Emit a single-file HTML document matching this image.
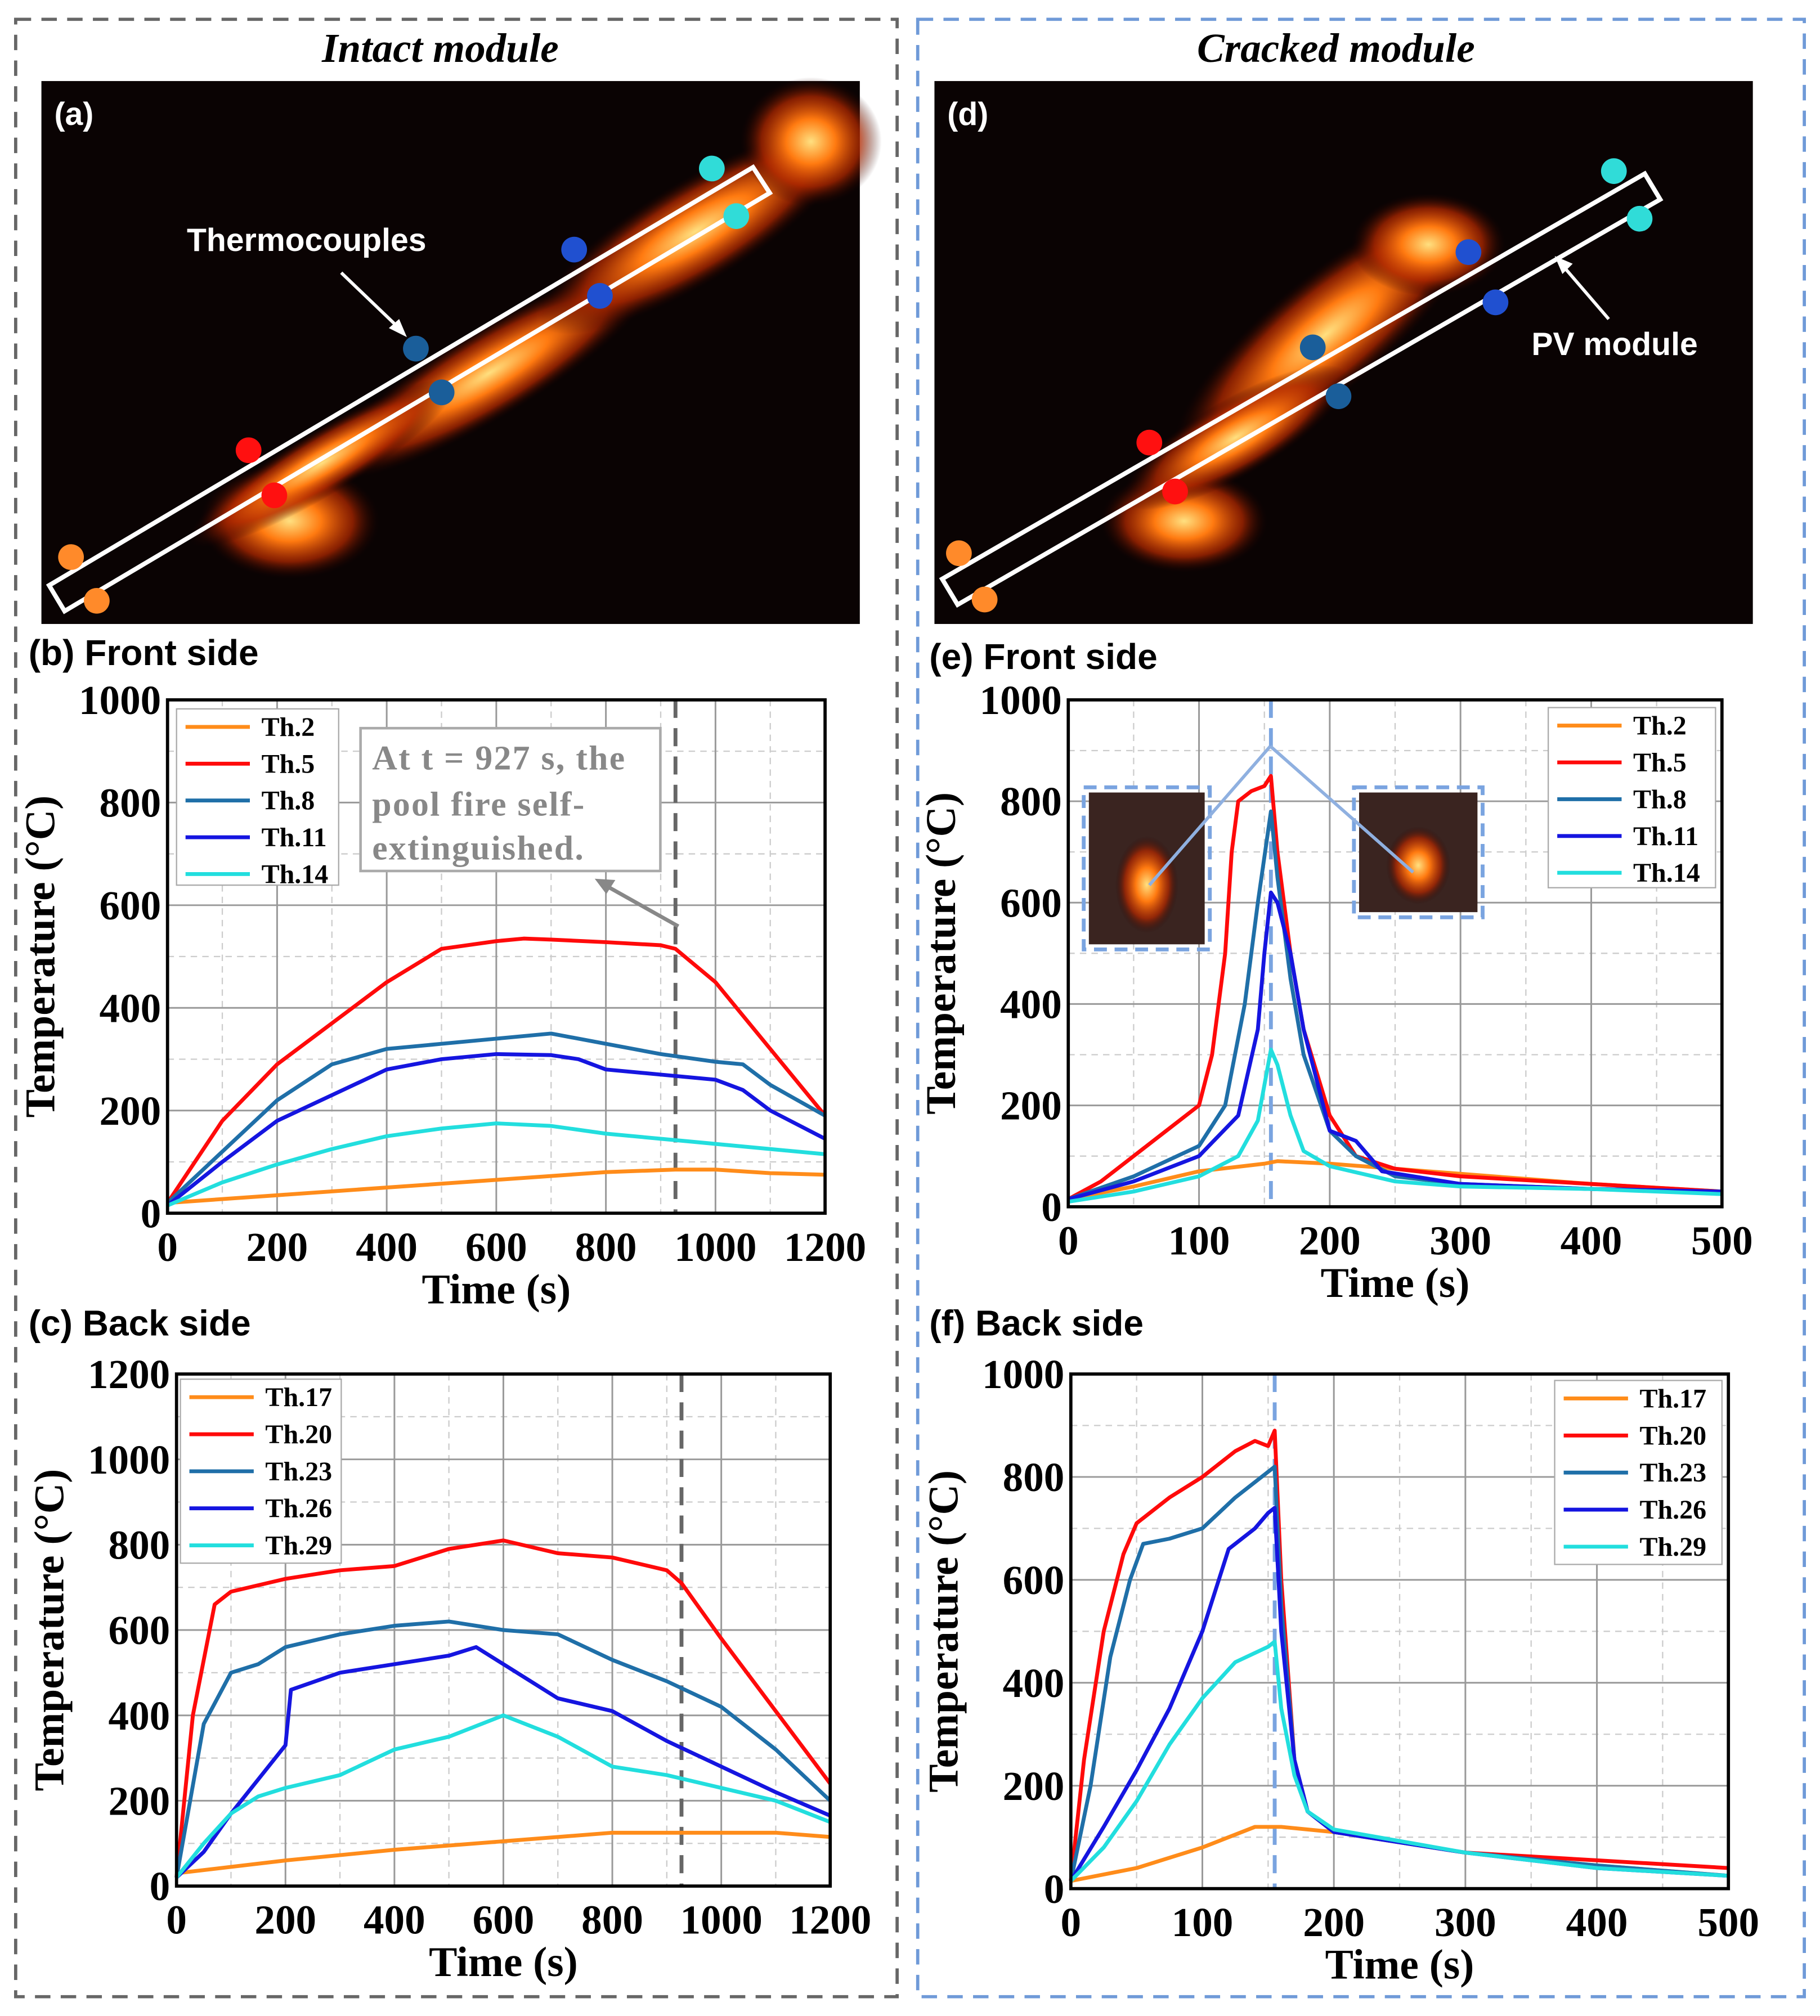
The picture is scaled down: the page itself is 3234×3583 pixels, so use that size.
<!DOCTYPE html>
<html><head><meta charset="utf-8"><style>
html,body{margin:0;padding:0;background:#fff;}
svg{display:block;}
.tick{font-family:"Liberation Serif",serif;font-weight:bold;font-size:32px;fill:#000;}
.ttl{font-family:"Liberation Serif",serif;font-weight:bold;font-size:33px;fill:#000;}
.leg{font-family:"Liberation Serif",serif;font-weight:bold;font-size:21px;fill:#000;}
.pl{font-family:"Liberation Sans",sans-serif;font-weight:bold;font-size:28px;fill:#000;}
.ph{font-family:"Liberation Sans",sans-serif;font-weight:bold;font-size:25px;fill:#fff;}
.hd{font-family:"Liberation Serif",serif;font-weight:bold;font-style:italic;font-size:32px;fill:#000;}
</style></head><body>
<svg id="fig" xmlns="http://www.w3.org/2000/svg" width="3234" height="3583" viewBox="0 0 1414 1567">
<defs>
<radialGradient id="fl" cx="50%" cy="50%" r="50%"><stop offset="0" stop-color="#ffe080"/><stop offset="0.35" stop-color="#ff7a10"/><stop offset="0.7" stop-color="#b02800" stop-opacity="0.75"/><stop offset="1" stop-color="#200000" stop-opacity="0"/></radialGradient>
</defs>
<rect x="12" y="15" width="685" height="1537" fill="none" stroke="#666" stroke-width="2.5" stroke-dasharray="12,8"/>
<rect x="713" y="15" width="689" height="1537" fill="none" stroke="#6f9ad8" stroke-width="2.5" stroke-dasharray="12,8"/>
<text x="342" y="48" text-anchor="middle" class="hd">Intact module</text>
<text x="1038" y="48" text-anchor="middle" class="hd">Cracked module</text>

<g>
<rect x="32" y="63" width="636" height="422" fill="#0a0303"/>
<ellipse cx="225" cy="405" rx="70" ry="45" fill="url(#fl)"/>
<ellipse cx="380" cy="290" rx="150" ry="35" transform="rotate(-31 380 290)" fill="url(#fl)"/>
<ellipse cx="540" cy="180" rx="140" ry="40" transform="rotate(-31 540 180)" fill="url(#fl)"/>
<ellipse cx="630" cy="110" rx="55" ry="50" fill="url(#fl)"/>
<ellipse cx="250" cy="360" rx="120" ry="25" transform="rotate(-31 250 360)" fill="url(#fl)"/>
<polygon points="38,455 585,130 598,150 50,475" fill="none" stroke="#fff" stroke-width="3.5"/>
<text x="42" y="97" class="ph">(a)</text>
<text x="145" y="195" class="ph">Thermocouples</text>
<line x1="265" y1="212" x2="313" y2="258" stroke="#fff" stroke-width="2.5"/>
<polygon points="316,262 302,255 310,248" fill="#fff"/>
<circle cx="55" cy="433" r="10" fill="#ff8a2a"/><circle cx="75" cy="467" r="10" fill="#ff8a2a"/>
<circle cx="193" cy="350" r="10" fill="#ff1010"/><circle cx="213" cy="385" r="10" fill="#ff1010"/>
<circle cx="323" cy="271" r="10" fill="#1a5e9a"/><circle cx="343" cy="305" r="10" fill="#1a5e9a"/>
<circle cx="446" cy="194" r="10" fill="#2050d0"/><circle cx="466" cy="230" r="10" fill="#2050d0"/>
<circle cx="553" cy="131" r="10" fill="#30dcd8"/><circle cx="572" cy="168" r="10" fill="#30dcd8"/>
</g>
<g>
<rect x="726" y="63" width="636" height="422" fill="#0a0303"/>
<ellipse cx="920" cy="405" rx="65" ry="40" fill="url(#fl)"/>
<ellipse cx="1030" cy="260" rx="150" ry="45" transform="rotate(-40 1030 260)" fill="url(#fl)"/>
<ellipse cx="1110" cy="190" rx="60" ry="40" fill="url(#fl)"/>
<ellipse cx="960" cy="340" rx="100" ry="30" transform="rotate(-30 960 340)" fill="url(#fl)"/>
<polygon points="732,450 1278,135 1290,155 744,470" fill="none" stroke="#fff" stroke-width="3.5"/>
<text x="736" y="97" class="ph">(d)</text>
<text x="1190" y="276" class="ph">PV module</text>
<line x1="1250" y1="248" x2="1213" y2="205" stroke="#fff" stroke-width="2.5"/>
<polygon points="1208,199 1222,205 1214,213" fill="#fff"/>
<circle cx="745" cy="430" r="10" fill="#ff8a2a"/><circle cx="765" cy="466" r="10" fill="#ff8a2a"/>
<circle cx="893" cy="344" r="10" fill="#ff1010"/><circle cx="913" cy="382" r="10" fill="#ff1010"/>
<circle cx="1020" cy="270" r="10" fill="#1a5e9a"/><circle cx="1040" cy="308" r="10" fill="#1a5e9a"/>
<circle cx="1141" cy="196" r="10" fill="#2050d0"/><circle cx="1162" cy="235" r="10" fill="#2050d0"/>
<circle cx="1254" cy="133" r="10" fill="#30dcd8"/><circle cx="1274" cy="170" r="10" fill="#30dcd8"/>
</g>
<text x="22" y="517" class="pl">(b)  Front side</text>
<text x="22" y="1038" class="pl">(c)  Back side</text>
<text x="722" y="520" class="pl">(e)  Front side</text>
<text x="722" y="1038" class="pl">(f)  Back side</text>
</svg>
<script>
// ---- chart data ----
const bX2=[0,200,400,600,800,927,1000,1100,1200], bY2=[20,35,50,65,80,85,85,78,75];
const bX5=[0,100,200,300,400,500,600,650,700,800,900,927,1000,1100,1200], bY5=[20,180,290,370,450,515,530,535,533,528,522,515,450,320,190];
const bX8=[0,100,200,300,400,500,600,700,800,900,1000,1050,1100,1200], bY8=[20,120,220,290,320,330,340,350,330,310,295,290,250,190];
const bX11=[0,100,200,300,400,500,600,700,750,800,900,1000,1050,1100,1200], bY11=[15,100,180,230,280,300,310,308,300,280,270,260,240,200,145];
const bX14=[0,100,200,300,400,500,600,700,800,900,1000,1100,1200], bY14=[15,60,95,125,150,165,175,170,155,145,135,125,115];

const cX17=[0,200,400,600,800,1000,1100,1200], cY17=[30,60,85,105,125,125,125,115];
const cX20=[0,30,70,100,200,300,400,500,600,700,800,900,927,1000,1100,1200], cY20=[20,400,660,690,720,740,750,790,810,780,770,740,710,580,410,240];
const cX23=[0,50,100,150,200,300,400,500,600,700,800,900,1000,1100,1200], cY23=[20,380,500,520,560,590,610,620,600,590,530,480,420,320,200];
const cX26=[0,50,100,150,200,210,300,400,500,550,600,700,800,900,1000,1100,1200], cY26=[20,80,170,250,330,460,500,520,540,560,520,440,410,340,280,220,165];
const cX29=[0,50,100,150,200,300,400,500,600,700,800,900,1000,1100,1200], cY29=[20,100,170,210,230,260,320,350,400,350,280,260,230,200,150];

const eX2=[0,50,100,150,160,200,250,300,350,400,500], eY2=[15,40,70,85,90,85,75,65,55,45,30];
const eX5=[0,25,50,75,100,110,120,125,130,140,150,155,160,170,180,200,220,250,300,400,500], eY5=[15,50,100,150,200,300,500,700,800,820,830,850,700,500,350,180,100,75,60,45,30];
const eX8=[0,50,100,120,135,145,155,160,170,180,200,220,250,300,400,500], eY8=[15,60,120,200,400,600,780,650,450,300,150,100,60,45,35,30];
const eX11=[0,50,100,130,145,150,155,160,170,180,200,220,240,300,400,500], eY11=[15,50,100,180,350,500,620,600,500,350,150,130,70,45,35,30];
const eX14=[0,50,100,130,145,155,160,170,180,200,250,300,400,500], eY14=[10,30,60,100,170,310,280,180,110,80,50,40,35,25];

const fX17=[0,50,100,140,160,200,300,400,500], fY17=[15,40,80,120,120,110,70,45,25];
const fX20=[0,10,25,40,50,75,100,125,140,150,155,160,170,180,200,250,300,400,500], fY20=[15,250,500,650,710,760,800,850,870,860,890,600,250,150,110,90,70,55,40];
const fX23=[0,15,30,45,55,75,100,125,150,155,160,170,180,200,300,400,500], fY23=[15,200,450,600,670,680,700,760,810,820,550,250,150,110,70,45,25];
const fX26=[0,25,50,75,100,120,140,150,155,160,170,180,200,300,400,500], fY26=[15,120,230,350,500,660,700,730,740,500,250,150,110,70,40,25];
const fX29=[0,25,50,75,100,125,150,155,160,170,180,200,300,400,500], fY29=[15,80,170,280,370,440,470,480,350,220,150,115,70,40,25];

const ticks1200=[0,200,400,600,800,1000,1200], ticks500=[0,100,200,300,400,500];
const yT1000=[0,200,400,600,800,1000], yT1200=[0,200,400,600,800,1000,1200];
const C=['#ff8c1a','#ff0a0a','#1f6fa8','#1515e0','#22dede'];

const NS='http://www.w3.org/2000/svg';
const fig=document.getElementById('fig');
function mk(tag,at,parent){const e=document.createElementNS(NS,tag);for(const k in at)e.setAttribute(k,at[k]);(parent||fig).appendChild(e);return e;}

function chart(cfg){
  const g=mk('g',{});
  
  
  const sx=v=>cfg.x+v/cfg.xmax*cfg.w, sy=v=>cfg.y+cfg.h-v/cfg.ymax*cfg.h;
  const xs=cfg.xt[1]-cfg.xt[0], ys=cfg.yt[1]-cfg.yt[0];
  for(let v=xs/2;v<cfg.xmax;v+=xs){const l=mk('line',{x1:sx(v),x2:sx(v),y1:cfg.y,y2:cfg.y+cfg.h,stroke:'#ccc','stroke-width':1,'stroke-dasharray':'5,4'},g);}
  for(let v=ys/2;v<cfg.ymax;v+=ys){const l=mk('line',{x1:cfg.x,x2:cfg.x+cfg.w,y1:sy(v),y2:sy(v),stroke:'#ccc','stroke-width':1,'stroke-dasharray':'5,4'},g);}
  cfg.xt.forEach(v=>{
    const l=mk('line',{x1:sx(v),x2:sx(v),y1:cfg.y,y2:cfg.y+cfg.h,stroke:'#999','stroke-width':1.3},g);
    
    
    const t=mk('text',{x:sx(v),y:cfg.y+cfg.h+37,'text-anchor':'middle',class:'tick'},g);t.textContent=v;
    
    
  });
  cfg.yt.forEach(v=>{
    const l=mk('line',{x1:cfg.x,x2:cfg.x+cfg.w,y1:sy(v),y2:sy(v),stroke:'#999','stroke-width':1.3},g);
    
    
    const t=mk('text',{x:cfg.x-5,y:sy(v)+11,'text-anchor':'end',class:'tick'},g);t.textContent=v;
    
    
  });
  if(cfg.vline!==undefined){const l=mk('line',{x1:sx(cfg.vline),x2:sx(cfg.vline),y1:cfg.y,y2:cfg.y+cfg.h,stroke:cfg.vcol,'stroke-width':3,'stroke-dasharray':'14,8'},g);}
  cfg.series.forEach((s,i)=>{
    const p=mk('polyline',{points:s.x.map((v,j)=>sx(v)+','+sy(s.y[j])).join(' '),fill:'none',stroke:C[i],'stroke-width':3,'stroke-linejoin':'round'},g);
    
    
  });
  const fr=mk('rect',{x:cfg.x,y:cfg.y,width:cfg.w,height:cfg.h,fill:'none',stroke:'#000','stroke-width':2.5},g);
  
  
  const L=cfg.leg;
  const lg=mk('g',{},g);
  
  
  mk('rect',{x:L.x,y:L.y,width:L.w,height:L.h,fill:'#fff',stroke:'#aaa','stroke-width':1},lg);
  cfg.series.forEach((s,i)=>{
    const yy=L.y+14+i*L.dy;
    const e=mk('g',{},lg);
    
    
    mk('line',{x1:L.x+7,x2:L.x+57,y1:yy,y2:yy,stroke:C[i],'stroke-width':3},e);
    const t=mk('text',{x:L.x+66,y:yy+7,class:'leg'},e);t.textContent=s.n;
  });
  const yt=mk('text',{x:0,y:0,'text-anchor':'middle',class:'ttl',transform:`translate(${cfg.x-88},${cfg.y+cfg.h/2}) rotate(-90)`},g);
  yt.textContent='Temperature (°C)';
  
  
  const xt=mk('text',{x:cfg.x+cfg.w/2,y:cfg.y+cfg.h+70,'text-anchor':'middle',class:'ttl'},g);
  xt.textContent='Time (s)';
  
  
  return g;
}
chart({name:'chart-b-front-intact',x:130,y:544,w:511,h:399,xmax:1200,ymax:1000,xt:ticks1200,yt:yT1000,vline:927,vcol:'#666',
 leg:{x:137,y:551,w:126,h:137,dy:28.6},
 series:[{n:'Th.2',x:bX2,y:bY2},{n:'Th.5',x:bX5,y:bY5},{n:'Th.8',x:bX8,y:bY8},{n:'Th.11',x:bX11,y:bY11},{n:'Th.14',x:bX14,y:bY14}]});
chart({name:'chart-c-back-intact',x:137,y:1068,w:508,h:398,xmax:1200,ymax:1200,xt:ticks1200,yt:yT1200,vline:927,vcol:'#666',
 leg:{x:140,y:1072,w:125,h:143,dy:28.8},
 series:[{n:'Th.17',x:cX17,y:cY17},{n:'Th.20',x:cX20,y:cY20},{n:'Th.23',x:cX23,y:cY23},{n:'Th.26',x:cX26,y:cY26},{n:'Th.29',x:cX29,y:cY29}]});
chart({name:'chart-e-front-cracked',x:830,y:544,w:508,h:394,xmax:500,ymax:1000,xt:ticks500,yt:yT1000,vline:155,vcol:'#7aa4e0',
 leg:{x:1203,y:550,w:130,h:140,dy:28.6},
 series:[{n:'Th.2',x:eX2,y:eY2},{n:'Th.5',x:eX5,y:eY5},{n:'Th.8',x:eX8,y:eY8},{n:'Th.11',x:eX11,y:eY11},{n:'Th.14',x:eX14,y:eY14}]});
chart({name:'chart-f-back-cracked',x:832,y:1068,w:511,h:400,xmax:500,ymax:1000,xt:ticks500,yt:yT1000,vline:155,vcol:'#7aa4e0',
 leg:{x:1208,y:1073,w:130,h:143,dy:28.8},
 series:[{n:'Th.17',x:fX17,y:fY17},{n:'Th.20',x:fX20,y:fY20},{n:'Th.23',x:fX23,y:fY23},{n:'Th.26',x:fX26,y:fY26},{n:'Th.29',x:fX29,y:fY29}]});

const an=mk('g',{});


mk('rect',{x:280,y:566,width:233,height:111,fill:'#fff',stroke:'#aaa','stroke-width':2},an);
[['At t = 927 s,  the',598],['pool fire self-',634],['extinguished.',668]].forEach(([s,y])=>{const t=mk('text',{x:289,y:y,class:'ttl',style:'fill:#888;font-size:27px;letter-spacing:1px'},an);t.textContent=s;});
mk('line',{x1:527,y1:720,x2:470,y2:688,stroke:'#888','stroke-width':3},an);
mk('polygon',{points:'462,683 478,684 471,695',fill:'#888'},an);

const ins=mk('g',{});


[[842,612,98,126],[1052,612,100,101]].forEach(([x,y,w,h])=>{
  mk('rect',{x:x+4,y:y+4,width:w-8,height:h-8,fill:'#3a2420'},ins);
  mk('ellipse',{cx:x+w/2,cy:y+h*0.6,rx:w*0.25,ry:h*0.3,fill:'url(#fl)'},ins);
  mk('rect',{x:x,y:y,width:w,height:h,fill:'none',stroke:'#7aa4e0','stroke-width':3,'stroke-dasharray':'10,6'},ins);
});
mk('line',{x1:987,y1:580,x2:893,y2:688,stroke:'#8fb0e0','stroke-width':2.5},ins);
mk('line',{x1:987,y1:580,x2:1098,y2:678,stroke:'#8fb0e0','stroke-width':2.5},ins);
</script>
</body></html>
